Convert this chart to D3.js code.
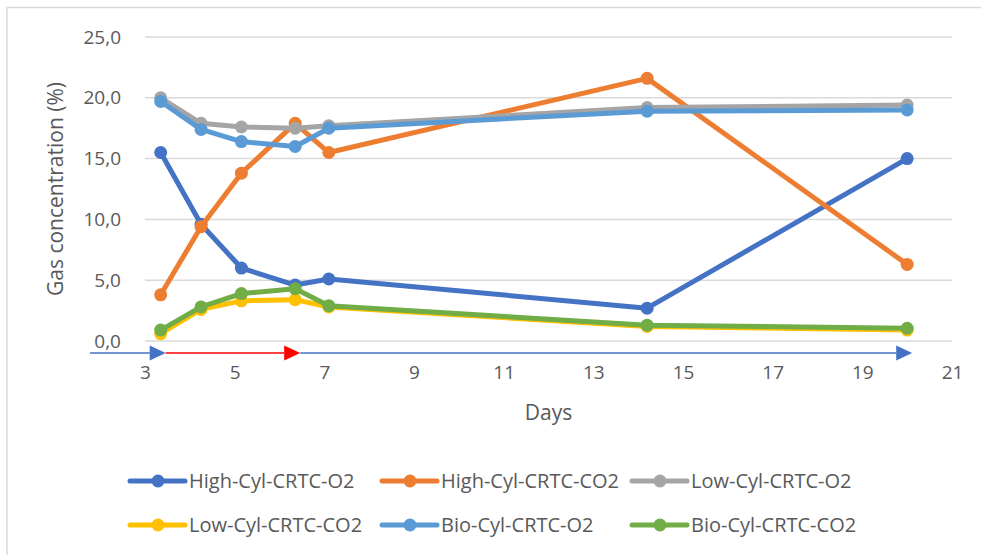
<!DOCTYPE html>
<html>
<head>
<meta charset="utf-8">
<script src="https://cdn.jsdelivr.net/npm/d3@7"></script>
<style>
  body { margin: 0; background: #fff; }
  svg { font-family: "Open Sans", "Noto Sans", sans-serif; }
</style>
</head>
<body>
<div id="chart"></div>
<script>
// data
const days = [3.35, 4.25, 5.15, 6.35, 7.1, 14.2, 20];
const seriesNames = ["High-Cyl-CRTC-O2", "High-Cyl-CRTC-CO2", "Low-Cyl-CRTC-O2",
                     "Low-Cyl-CRTC-CO2", "Bio-Cyl-CRTC-O2", "Bio-Cyl-CRTC-CO2"];
const highO2  = [15.5, 9.6, 6.0, 4.6, 5.1, 2.7, 15.0];
const highCO2 = [3.8, 9.4, 13.8, 17.9, 15.5, 21.6, 6.3];
const lowO2   = [20.0, 17.9, 17.6, 17.5, 17.7, 19.2, 19.4];
const lowCO2  = [0.6, 2.6, 3.3, 3.4, 2.8, 1.2, 0.9];
const bioO2   = [19.7, 17.4, 16.4, 16.0, 17.5, 18.9, 19.0];
const bioCO2  = [0.9, 2.8, 3.9, 4.3, 2.9, 1.3, 1.05];
const xTicks = [3, 5, 7, 9, 11, 13, 15, 17, 19, 21];
const yTicks = [0, 5, 10, 15, 20, 25];
const arrowDays = [3.35, 6.35, 20];

const colors = ["#4472C4", "#ED7D31", "#A5A5A5", "#FFC000", "#5B9BD5", "#70AD47"];
const seriesValues = [highO2, highCO2, lowO2, lowCO2, bioO2, bioCO2];

const svgWidth = 981, svgHeight = 555;
const margin = {top: 37, left: 145, right: 29, bottom: 214};
const chartWidth = svgWidth - margin.left - margin.right;
const chartHeight = svgHeight - margin.top - margin.bottom;
const textColor = "#595959";

const svg = d3.select("#chart").append("svg")
    .attr("width", svgWidth)
    .attr("height", svgHeight);

// outer border
svg.append("rect")
    .attr("x", 7).attr("y", 7.5)
    .attr("width", 1000).attr("height", 600)
    .attr("fill", "none")
    .attr("stroke", "#d9d9d9")
    .attr("stroke-width", 1.5);

const chart = svg.append("g")
    .attr("transform", `translate(${margin.left}, ${margin.top})`);

// scales
const xScale = d3.scaleLinear().domain([3, 21]).range([0, chartWidth]);
const yScale = d3.scaleLinear().domain([0, 25]).range([chartHeight, 0]);

// gridlines
chart.append("g").selectAll("line")
    .data(yTicks)
    .join("line")
        .attr("x1", 0).attr("x2", chartWidth)
        .attr("y1", d => yScale(d)).attr("y2", d => yScale(d))
        .attr("stroke", "#d9d9d9")
        .attr("stroke-width", 1.5);

// y axis labels
const yAxis = d3.axisLeft(yScale)
    .tickValues(yTicks)
    .tickSize(0)
    .tickPadding(24)
    .tickFormat(d => d3.format(".1f")(d).replace(".", ","));
const yAxisGroup = chart.append("g").call(yAxis);
yAxisGroup.select(".domain").remove();
yAxisGroup.selectAll("text")
    .attr("fill", textColor)
    .style("font-size", "19px")
    .style("font-family", '"Open Sans", "Noto Sans", sans-serif');

// x axis labels
const xAxis = d3.axisBottom(xScale)
    .tickValues(xTicks)
    .tickSize(0)
    .tickPadding(25);
const xAxisGroup = chart.append("g")
    .attr("transform", `translate(0, ${chartHeight})`)
    .call(xAxis);
xAxisGroup.select(".domain").remove();
xAxisGroup.selectAll("text")
    .attr("fill", textColor)
    .style("font-size", "19px")
    .style("font-family", '"Open Sans", "Noto Sans", sans-serif');

// arrow annotation under the plot
const arrowY = chartHeight + 12;
const tips = arrowDays.map(d => xScale(d) + 5);
const arrowLen = 16, arrowHalf = 7.5;
const segs = [
    {x1: xScale(3) - 55, x2: tips[0] - arrowLen, color: "#4472C4"},
    {x1: tips[0], x2: tips[1] - arrowLen, color: "#FF0000"},
    {x1: tips[1], x2: tips[2] - arrowLen, color: "#4472C4"}
];
chart.append("g").selectAll("line")
    .data(segs)
    .join("line")
        .attr("x1", d => d.x1).attr("x2", d => d.x2)
        .attr("y1", arrowY).attr("y2", arrowY)
        .attr("stroke", d => d.color)
        .attr("stroke-width", 1.5);
chart.append("g").selectAll("path")
    .data(tips)
    .join("path")
        .attr("d", t => `M${t},${arrowY} L${t - arrowLen},${arrowY - arrowHalf} L${t - arrowLen},${arrowY + arrowHalf} Z`)
        .attr("fill", (t, i) => i === 1 ? "#FF0000" : "#4472C4");

// axis titles
chart.append("text")
    .attr("text-anchor", "middle")
    .attr("x", xScale(12))
    .attr("y", chartHeight + 79)
    .attr("fill", textColor)
    .style("font-size", "21px")
    .text("Days");

chart.append("text")
    .attr("transform", "rotate(-90)")
    .attr("text-anchor", "middle")
    .attr("x", -0.5 * chartHeight)
    .attr("y", -82)
    .attr("fill", textColor)
    .style("font-size", "21px")
    .text("Gas concentration (%)");

// lines + markers
const line = d3.line()
    .x((d, i) => xScale(days[i]))
    .y(d => yScale(d));

seriesValues.forEach((vals, s) => {
    const g = chart.append("g");
    g.append("path")
        .datum(vals)
        .attr("d", line)
        .attr("fill", "none")
        .attr("stroke", colors[s])
        .attr("stroke-width", 5)
        .attr("stroke-linejoin", "round");
    g.selectAll("circle")
        .data(vals)
        .join("circle")
            .attr("cx", (d, i) => xScale(days[i]))
            .attr("cy", d => yScale(d))
            .attr("r", 6.5)
            .attr("fill", colors[s]);
});

// legend
const legendCols = [130, 382, 632];
const legendRows = [481, 525];
const legend = svg.append("g").selectAll("g")
    .data(seriesNames)
    .join("g")
        .attr("transform", (d, i) => `translate(${legendCols[i % 3]}, ${legendRows[Math.floor(i / 3)]})`);
legend.append("line")
    .attr("x1", 0).attr("x2", 55)
    .attr("stroke", (d, i) => colors[i])
    .attr("stroke-width", 5)
    .attr("stroke-linecap", "round");
legend.append("circle")
    .attr("cx", 28).attr("r", 6.5)
    .attr("fill", (d, i) => colors[i]);
legend.append("text")
    .attr("x", 59)
    .attr("dy", "0.35em")
    .attr("fill", textColor)
    .style("font-size", "20px")
    .text(d => d);
</script>
</body>
</html>
